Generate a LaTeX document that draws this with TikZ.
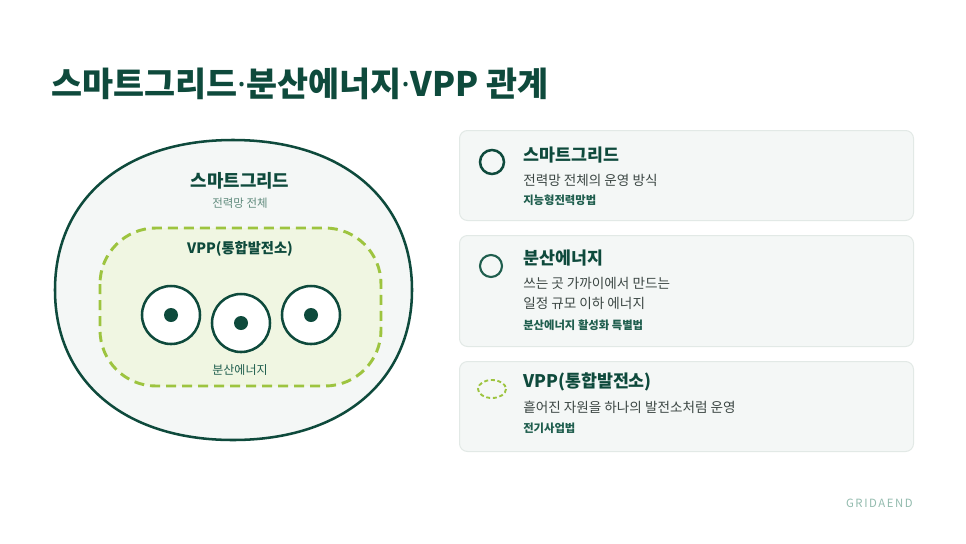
\documentclass[tikz,border=0pt]{standalone}
\usepackage{fontspec}
\setmainfont{Noto Sans CJK KR}
\newfontfamily\latinsans{Noto Sans}
\usetikzlibrary{%
  positioning,
}
\definecolor{gridgreen}{HTML}{0E4A3C}
\definecolor{lawgreen}{HTML}{1F5E4E}
\definecolor{leafgreen}{HTML}{9DC43F}
\definecolor{paleleaf}{HTML}{F0F6E2}
\definecolor{palegray}{HTML}{F4F7F6}
\definecolor{cardline}{HTML}{E2E9E6}
\definecolor{textgray}{HTML}{3C4744}
\definecolor{mutedgreen}{HTML}{5F8A7C}
\definecolor{brandgreen}{HTML}{93BBAE}
\newcommand{\middot}{{\latinsans\bfseries ·}}

\begin{document}
\begin{tikzpicture}[%
           x=0.75pt, y=-0.75pt,
           card/.style={
             % The shape:
             rectangle,
             rounded corners=6pt,
             minimum width=340.5pt,
             minimum height=67.5pt,
             % The border:
             draw=cardline,
             line width=0.75pt,
             % The filling:
             fill=palegray,
             anchor=north west,
           },
           heading/.style={
             anchor=west, inner sep=0pt,
             font=\fontsize{13}{15}\selectfont\bfseries,
             text=gridgreen,
           },
           desc/.style={
             anchor=west, inner sep=0pt, align=left,
             font=\fontsize{10.2}{15}\selectfont,
             text=textgray,
           },
           law/.style={
             anchor=west, inner sep=0pt,
             font=\fontsize{8.5}{10}\selectfont\bfseries,
             text=lawgreen,
           },
           source/.style={
             circle,
             minimum size=43.5pt,
             line width=1.9pt,
             draw=gridgreen,
             fill=white,
           },
           dot/.style={
             circle,
             minimum size=10.5pt,
             inner sep=0pt,
             fill=gridgreen,
           },
           vppzone/.style={
             dashed,
             dash pattern=on 7.5pt off 4.5pt,
             line width=2.2pt,
             draw=leafgreen,
             fill=paleleaf,
           }]

  \useasboundingbox[fill=white] (0,0) rectangle (966,543);

  % title
  \node[anchor=west, inner sep=0pt, text=gridgreen,
        font=\fontsize{25.3}{28}\selectfont\bfseries] (title) at (51,84)
        {스마트그리드\middot 분산에너지\middot VPP 관계};

  % the smart grid
  \draw[line width=1.9pt, draw=gridgreen, fill=palegray]
    (233,140) .. controls (343,140) and (412,200) .. (412,290)
              .. controls (412,380) and (343,440) .. (233,440)
              .. controls (123,440) and (55,380) .. (55,290)
              .. controls (55,200) and (123,140) .. (233,140) -- cycle;
  \node[inner sep=0pt, text=gridgreen,
        font=\fontsize{13.4}{15}\selectfont\bfseries] (gridname) at (240,181) {스마트그리드};
  \node[inner sep=0pt, text=mutedgreen,
        font=\fontsize{8.6}{10}\selectfont] (gridnote) at (240,203) {전력망 전체};

  % the VPP
  \draw[vppzone, rounded corners=42pt] (100,228) rectangle (381,386);
  \node[inner sep=0pt, text=gridgreen,
        font=\fontsize{10.7}{12}\selectfont\bfseries] (vppname) at (240,249) {VPP(통합발전소)};

  % the distributed sources
  \node[source] (src1) at (171,315) {};
  \node[source] (src2) at (241,323) {};
  \node[source] (src3) at (311,315) {};
  \node[dot] at (src1) {};
  \node[dot] at (src2) {};
  \node[dot] at (src3) {};
  \node[inner sep=0pt, text=lawgreen,
        font=\fontsize{9}{10}\selectfont] (dername) at (240,370) {분산에너지};

  % the cards
  \node[card] (card1) at (459,130) {};
  \node[card, minimum height=83.25pt] (card2) [below=10.5pt of card1.south west, anchor=north west] {};
  \node[card] (card3) [below=10.5pt of card2.south west, anchor=north west] {};

  \node[circle, minimum size=18pt, inner sep=0pt, line width=1.9pt, draw=gridgreen] (icon1) at (492,162) {};
  \node[heading] (head1) at (523,155) {스마트그리드};
  \node[desc] (desc1) at (523,180) {전력망 전체의 운영 방식};
  \node[law] (law1) at (523,200) {지능형전력망법};

  \node[circle, minimum size=16.5pt, inner sep=0pt, line width=1.6pt, draw=lawgreen] (icon2) at (491,266) {};
  \node[heading] (head2) at (523,258) {분산에너지};
  \node[desc] (desc2) at (523,283) {쓰는 곳 가까이에서 만드는};
  \node[desc] (desc2b) at (523,303) {일정 규모 이하 에너지};
  \node[law] (law2) at (523,325) {분산에너지 활성화 특별법};

  \draw[dashed, dash pattern=on 3pt off 2pt, line width=1.4pt, draw=leafgreen]
    (492,389) ellipse [x radius=14, y radius=9];
  \node[heading] (head3) at (523,382) {VPP(통합발전소)};
  \node[desc] (desc3) at (523,407) {흩어진 자원을 하나의 발전소처럼 운영};
  \node[law] (law3) at (523,428) {전기사업법};

  % brand
  \node[anchor=east, inner sep=0pt, text=brandgreen,
        font=\fontsize{8.5}{10}\selectfont\addfontfeatures{LetterSpace=14}] (brand) at (913,503) {GRIDAEND};
\end{tikzpicture}
\end{document}
